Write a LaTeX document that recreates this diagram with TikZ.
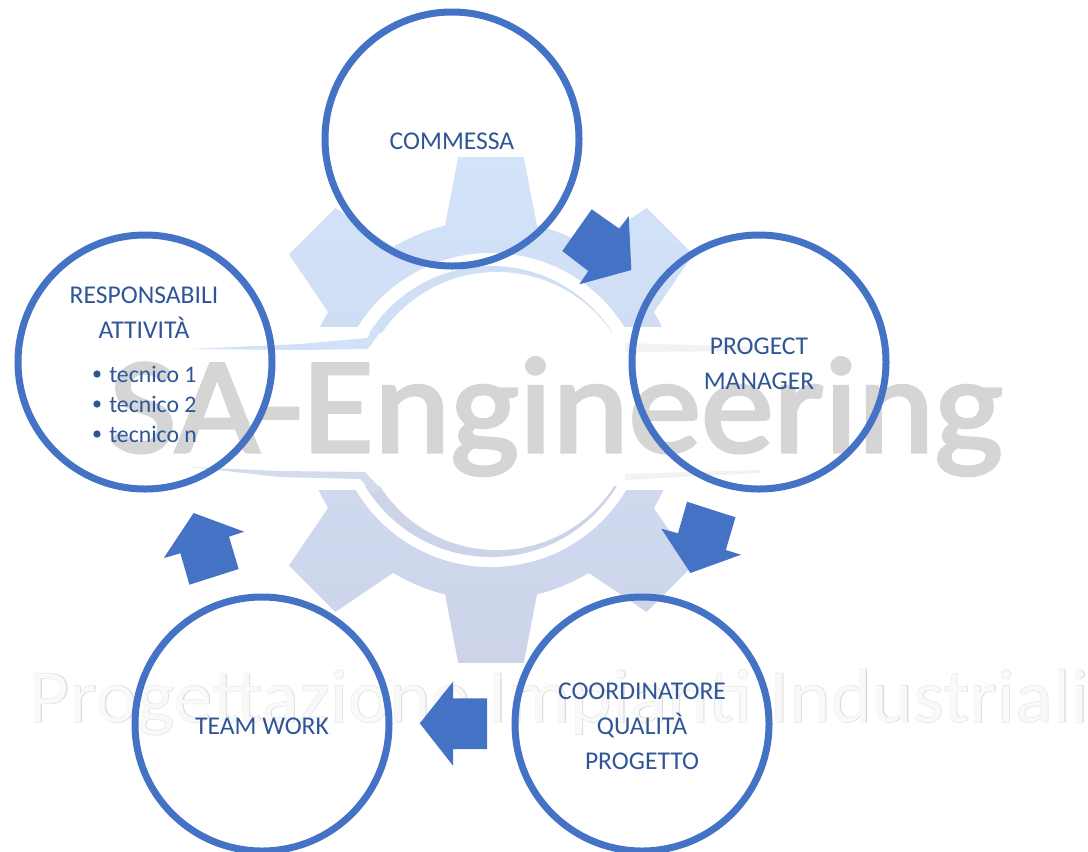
\documentclass[tikz,border=0pt]{standalone}
\usetikzlibrary{calc}
\usepackage{fontspec}
\setmainfont{Carlito}
\newfontfamily\wmlight[FakeBold=0.9]{Carlito}
\newfontfamily\wmbold[FakeBold=2.4]{Carlito}
\definecolor{ringblue}{HTML}{4472C4}
\definecolor{labelblue}{HTML}{2F5597}
\definecolor{geartop}{HTML}{D2E3FA}
\definecolor{gearbot}{HTML}{CDD4E9}
\definecolor{wmgrey}{HTML}{D5D5D5}
\definecolor{wmline}{HTML}{DADADA}
\definecolor{wminner}{HTML}{F9F9F9}
\tikzset{
  ring/.style={circle,draw=ringblue,line width=5.25pt,minimum size=190.5pt,inner sep=0pt,outer sep=0pt},
  lbl/.style={text=labelblue,font=\fontsize{19.2pt}{26.2pt}\selectfont,align=center,inner sep=0pt},
  sublbl/.style={text=labelblue,font=\fontsize{17.8pt}{22pt}\selectfont,anchor=west,inner sep=0pt},
  bigarrow/.style={fill=ringblue,draw=none},
  gearfill/.style={top color=geartop,bottom color=gearbot},
  dotmark/.style={circle,fill=labelblue,minimum size=5.5pt,inner sep=0pt},
}
\begin{document}
\begin{tikzpicture}[x=0.75pt,y=-0.75pt]
\useasboundingbox (0,0) rectangle (1088,851);
\coordinate (gc) at (491,410);
% gear
\path[gearfill] (gc) circle (190)
 \foreach \a in {45,90,135,225,270,315}{
   ($(gc)+(\a-14:190)$) -- ($(gc)+(\a-7.4:255)$) -- ($(gc)+(\a+7.4:255)$) -- ($(gc)+(\a+14:190)$) -- cycle
 };
\fill[white] (180,327) rectangle (800,490);
\fill[white] (gc) circle (157);
% inner crescents
\begin{scope}
\clip (300,240) rectangle (640,332);
\fill[geartop!70!gearbot] (gc) circle (144);
\end{scope}
\begin{scope}
\clip (340,486) rectangle (640,570);
\fill[gearbot] (gc) circle (147);
\end{scope}
\fill[white] (497,411) circle (139);
% swooshes
\fill[geartop!85!gearbot] (190,349) -- (300,344) -- (367,338) -- (375,326) -- (380,332) -- (368,349) -- (300,350) -- cycle;
\fill[gearbot!85!white] (190,467) -- (280,471) -- (365,472) -- (382,490) -- (372,492) -- (360,479) -- (280,477) -- cycle;
\fill[wmline!35!white] (625,343) -- (760,347) -- (760,351) -- (625,352) -- cycle;
\fill[wmline!35!white] (625,474) -- (760,470) -- (760,473) -- (625,480) -- cycle;
% watermark texts
\node[text=wmgrey,font=\wmbold\fontsize{103pt}{110pt}\selectfont,inner sep=0pt,anchor=base,transform shape,xscale=1.06] (wmA) at (556,452) {SA-Engineering};
\node[text=wmline,font=\wmlight\fontsize{57pt}{60pt}\selectfont,inner sep=0pt,anchor=base,transform shape,xscale=1.035] (wmB) at (559,722) {Progettazione Impianti Industriali};
\node[text=wminner,font=\fontsize{57pt}{60pt}\selectfont,inner sep=0pt,anchor=base,transform shape,xscale=1.035] (wmC) at (559,722) {Progettazione Impianti Industriali};
% circles
\node[ring] (commessa) at (452,139) {};
\node[ring] (pm) at (759,362) {};
\node[ring] (coord) at (642,724) {};
\node[ring] (team) at (262,724) {};
\node[ring] (resp) at (145,362) {};
% labels
\node[lbl] (t1) at (452,141) {COMMESSA};
\node[lbl] (t2) at (759,364) {PROGECT\\MANAGER};
\node[lbl] (t3) at (642,726) {COORDINATORE\\QUALITÀ\\PROGETTO};
\node[lbl] (t4) at (262,726) {TEAM WORK};
\node[lbl] (t5) at (144,313) {RESPONSABILI\\ATTIVITÀ};
\node[sublbl] (b1) at (109,374) {tecnico 1};
\node[sublbl] (b2) at (109,404) {tecnico 2};
\node[sublbl] (b3) at (109,434) {tecnico n};
\node[dotmark] (d1) at (97,374) {};
\node[dotmark] (d2) at (97,404) {};
\node[dotmark] (d3) at (97,434) {};
% block arrows
\fill[bigarrow] (591.7,209.3) -- (619.3,228.7) -- (628.7,216) -- (631.3,270) -- (579.3,284.3) -- (588.3,271) -- (562.3,251) -- cycle;
\fill[bigarrow] (687,501.7) -- (735.5,517.3) -- (725.8,550) -- (741,554.7) -- (690.4,573) -- (661.3,528.7) -- (678,533.3) -- cycle;
\fill[bigarrow] (487,698.3) -- (453,698.3) -- (453,681.7) -- (419.8,723.3) -- (453,765.7) -- (453,749) -- (487,749) -- cycle;
\fill[bigarrow] (189.4,584.7) -- (180.4,553.3) -- (163.8,558) -- (193.6,513) -- (244.2,531.7) -- (229,536.7) -- (238.7,569) -- cycle;
\end{tikzpicture}
\end{document}
